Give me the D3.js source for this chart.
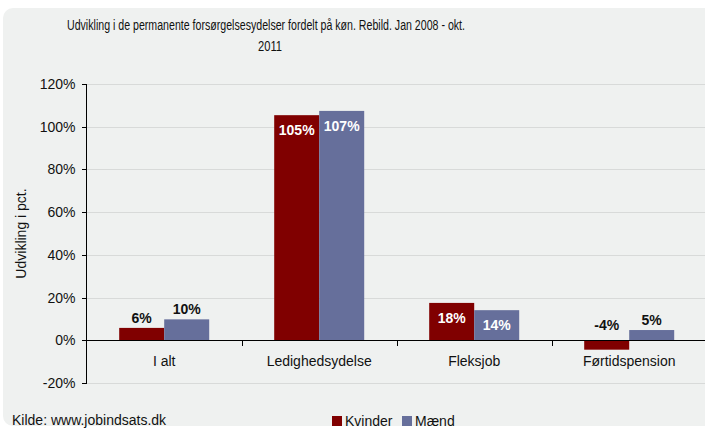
<!DOCTYPE html>
<meta charset="utf-8">
<style>
    body { margin: 0; background: #fff; }
    svg text { font-family: 'Liberation Sans', Arial, sans-serif; fill: #111; }
    .grid line { stroke: #d8dad9; }
    .axis path, .axis line { stroke: #000; shape-rendering: crispEdges; }
</style>
<body>
<svg id="chart" width="705" height="428"></svg>
<script src="https://cdn.jsdelivr.net/npm/d3@7"></script>
<script>
    // data
    var categories = ["I alt", "Ledighedsydelse", "Fleksjob", "Førtidspension"];
    var kvinder = [5.8, 105.4, 17.5, -4.4];
    var maend = [9.8, 107.4, 14.1, 4.8];
    var seriesNames = ["Kvinder", "Mænd"];
    var seriesColors = ["#800000", "#666f9b"];
    var yTicks = [-20, 0, 20, 40, 60, 80, 100, 120];

    var svg = d3.select("#chart");

    // panel
    svg.append("rect")
        .attr("x", 3).attr("y", 8)
        .attr("width", 720).attr("height", 418)
        .attr("rx", 10)
        .attr("fill", "#eff1f0");

    var x0 = d3.scaleBand().domain(categories).range([86.7, 706.7]).paddingInner(0).paddingOuter(0);
    var x1 = d3.scaleBand().domain(seriesNames).range([0, 90]);
    var y = d3.scaleLinear().domain([-20, 120]).range([383, 84]);

    // title (the original font is narrower, so squeeze it)
    var title = svg.append("text")
        .attr("text-anchor", "middle")
        .style("font-size", "14px");
    title.append("tspan").attr("x", 266).attr("y", 30)
        .attr("textLength", 398).attr("lengthAdjust", "spacingAndGlyphs")
        .text("Udvikling i de permanente forsørgelsesydelser fordelt på køn. Rebild. Jan 2008 - okt.");
    title.append("tspan").attr("x", 270).attr("y", 51)
        .attr("textLength", 24).attr("lengthAdjust", "spacingAndGlyphs")
        .text("2011");

    // grid lines
    svg.append("g").attr("class", "grid")
        .selectAll("line")
        .data(yTicks)
        .enter()
        .append("line")
        .attr("x1", 86).attr("x2", 705)
        .attr("y1", function (d) { return Math.round(y(d)) + 0.5; })
        .attr("y2", function (d) { return Math.round(y(d)) + 0.5; });

    // bars
    var rows = categories.map(function (c, i) {
        return { cat: c, vals: [kvinder[i], maend[i]] };
    });

    var groups = svg.selectAll(".grp")
        .data(rows)
        .enter()
        .append("g")
        .attr("transform", function (d) {
            return "translate(" + (x0(d.cat) + (x0.bandwidth() - 90) / 2) + ",0)";
        });

    groups.selectAll("rect")
        .data(function (d) { return d.vals.map(function (v, j) { return { v: v, s: seriesNames[j], j: j }; }); })
        .enter()
        .append("rect")
        .attr("x", function (d) { return x1(d.s); })
        .attr("width", x1.bandwidth())
        .attr("y", function (d) { return y(Math.max(0, d.v)); })
        .attr("height", function (d) { return Math.abs(y(d.v) - y(0)); })
        .attr("fill", function (d) { return seriesColors[d.j]; });

    // value labels
    groups.selectAll(".lbl")
        .data(function (d) { return d.vals.map(function (v, j) { return { v: v, s: seriesNames[j] }; }); })
        .enter()
        .append("text")
        .attr("text-anchor", "middle")
        .attr("x", function (d) { return x1(d.s) + x1.bandwidth() / 2; })
        .attr("y", function (d) {
            if (d.v > 12) return y(d.v) + 20;
            if (d.v < 0) return y(0) - 10;
            return y(d.v) - 5;
        })
        .style("font-size", "14px")
        .style("font-weight", "bold")
        .style("fill", function (d) { return d.v > 12 ? "#fff" : "#111"; })
        .text(function (d) { return Math.round(d.v) + "%"; });

    // y axis
    var yAxis = svg.append("g")
        .attr("class", "axis")
        .attr("transform", "translate(86.5,0)")
        .call(d3.axisLeft(y).tickValues(yTicks).tickSize(5).tickPadding(6)
            .tickFormat(function (d) { return d + "%"; }));
    yAxis.select(".domain").attr("d", "M-5," + y(120) + "H0V" + y(-20) + "H-5");
    yAxis.selectAll("text").style("font-size", "14px");

    // x axis at zero
    var xAxis = svg.append("g")
        .attr("class", "axis")
        .attr("transform", "translate(0," + (Math.round(y(0)) + 0.5) + ")");
    xAxis.append("line").attr("x1", 86).attr("x2", 705);
    xAxis.selectAll(".tk")
        .data(categories.slice(1))
        .enter()
        .append("line")
        .attr("x1", function (d) { return Math.round(x0(d)) + 0.5; })
        .attr("x2", function (d) { return Math.round(x0(d)) + 0.5; })
        .attr("y1", 0).attr("y2", 5);

    svg.selectAll(".cat")
        .data(categories)
        .enter()
        .append("text")
        .attr("text-anchor", "middle")
        .attr("x", function (d) { return x0(d) + x0.bandwidth() / 2; })
        .attr("y", 366)
        .style("font-size", "14px")
        .text(function (d) { return d; });

    // y title
    svg.append("text")
        .attr("transform", "translate(26," + ((y(120) + y(-20)) / 2) + ")rotate(-90)")
        .attr("text-anchor", "middle")
        .style("font-size", "14px")
        .text("Udvikling i pct.");

    // source
    svg.append("text")
        .attr("x", 12).attr("y", 425)
        .style("font-size", "14px")
        .text("Kilde: www.jobindsats.dk");

    // legend
    var legX = [332, 402];
    var leg = svg.selectAll(".leg")
        .data(seriesNames)
        .enter()
        .append("g")
        .attr("transform", function (d, i) { return "translate(" + legX[i] + ",416)"; });
    leg.append("rect")
        .attr("width", 10).attr("height", 10)
        .attr("fill", function (d, i) { return seriesColors[i]; });
    leg.append("text")
        .attr("x", 13).attr("y", 10)
        .style("font-size", "14px")
        .text(function (d) { return d; });
</script>
</body>
